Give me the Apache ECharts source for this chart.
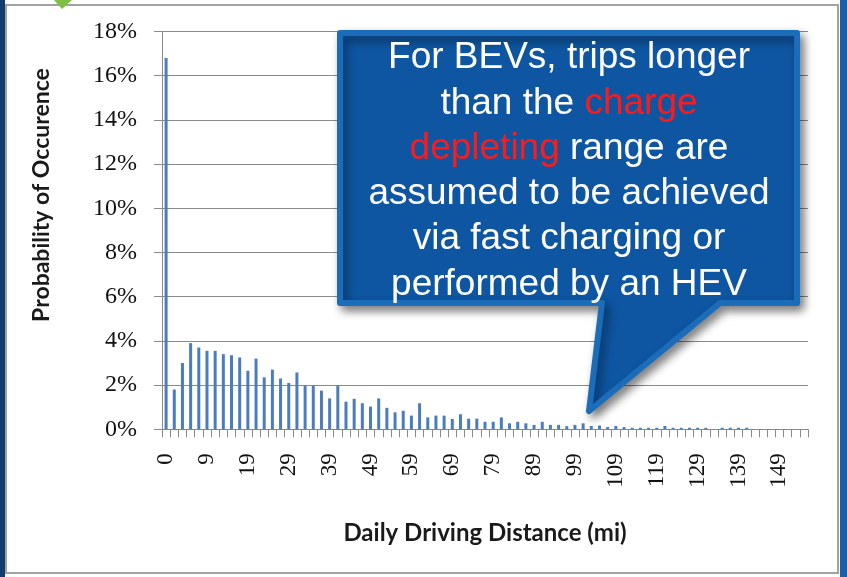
<!DOCTYPE html>
<html>
<head>
<meta charset="utf-8">
<title>Daily Driving Distance</title>
<script src="https://cdn.jsdelivr.net/npm/echarts@6.0.0/dist/echarts.min.js"></script>
<style>
  html, body { margin: 0; padding: 0; background: #fff; }
  #chart { width: 847px; height: 577px; }
</style>
</head>
<body>
<div id="chart"></div>
<script>
// 日行驶距离分布 (mi)
const distances = [
  '0', '1', '3', '5', '7', '9', '11', '13', '15', '17',
  '19', '21', '23', '25', '27', '29', '31', '33', '35', '37',
  '39', '41', '43', '45', '47', '49', '51', '53', '55', '57',
  '59', '61', '63', '65', '67', '69', '71', '73', '75', '77',
  '79', '81', '83', '85', '87', '89', '91', '93', '95', '97',
  '99', '101', '103', '105', '107', '109', '111', '113', '115', '117',
  '119', '121', '123', '125', '127', '129', '131', '133', '135', '137',
  '139', '141', '143', '145', '147', '149', '151', '153', '155'
]
// probability of occurence, %
const probability = [
  16.8, 1.8, 3.0, 3.9, 3.7, 3.55, 3.55, 3.4, 3.35, 3.25,
  2.65, 3.2, 2.35, 2.7, 2.3, 2.1, 2.57, 1.97, 1.97, 1.75,
  1.4, 1.98, 1.25, 1.38, 1.18, 1.03, 1.4, 0.97, 0.77, 0.84,
  0.62, 1.18, 0.54, 0.62, 0.62, 0.47, 0.68, 0.48, 0.48, 0.34,
  0.34, 0.54, 0.27, 0.34, 0.27, 0.2, 0.34, 0.2, 0.2, 0.14,
  0.2, 0.27, 0.15, 0.17, 0.1, 0.15, 0.1, 0.07, 0.07, 0.07,
  0.07, 0.15, 0.07, 0.07, 0.07, 0.07, 0.07, 0, 0.07, 0.07,
  0.07, 0.07, 0, 0, 0, 0, 0, 0, 0
]
const yTicks = [0, 2, 4, 6, 8, 10, 12, 14, 16, 18]

// callout text, one entry per line; {r|..} is red
const calloutLines = [
  'For BEVs, trips longer',
  'than the {r|charge}',
  '{r|depleting} range are',
  'assumed to be achieved',
  'via fast charging or',
  'performed by an HEV'
]

const gray = '#8a8a8a'
const serif = '"Liberation Serif", "Times New Roman", serif'
const sans = '"Liberation Sans", Arial, sans-serif'
const titleFont = 'Lato, "Open Sans", sans-serif'

const calloutText = calloutLines.map((line, i) => ({
  type: 'text',
  x: 569,
  y: 58 + i * 45.3,
  z: 102,
  style: {
    text: line,
    fill: '#fff',
    fontSize: 37,
    fontFamily: sans,
    align: 'center',
    verticalAlign: 'middle',
    rich: {
      r: { fill: '#ff1a1a', fontSize: 37, fontFamily: sans }
    }
  }
}))

const option = {
  backgroundColor: '#fff',
  animation: false,
  grid: {
    left: 162,
    right: 39,
    top: 31.5,
    bottom: 147.7
  },
  xAxis: {
    type: 'category',
    data: distances,
    name: 'Daily Driving Distance (mi)',
    nameLocation: 'middle',
    nameGap: 92,
    nameTextStyle: {
      fontFamily: titleFont,
      fontWeight: 'bold',
      fontSize: 24,
      color: '#1a1a1a'
    },
    axisLine: { lineStyle: { color: gray, width: 1 } },
    axisTick: { show: true, interval: 0, length: 8, lineStyle: { color: gray } },
    axisLabel: {
      interval: 4,
      rotate: 90,
      margin: 24,
      fontFamily: serif,
      fontSize: 23,
      color: '#111'
    }
  },
  yAxis: {
    type: 'value',
    min: 0,
    max: 18,
    interval: 2,
    axisLine: { show: true, lineStyle: { color: gray, width: 1 } },
    axisTick: { show: true, length: 8, lineStyle: { color: gray } },
    axisLabel: {
      margin: 25,
      fontFamily: serif,
      fontSize: 24,
      color: '#111',
      formatter: (v) => (yTicks.indexOf(v) >= 0 ? v + '%' : '')
    },
    splitLine: { lineStyle: { color: gray, width: 1.2 } }
  },
  series: [
    {
      name: 'Probability',
      type: 'bar',
      data: probability,
      barWidth: 3,
      itemStyle: { color: '#4a7dbd' }
    }
  ],
  graphic: [
    // 边框
    {
      type: 'rect',
      z: -10,
      shape: { x: 6, y: 5, width: 832, height: 568 },
      style: { fill: '#fff', stroke: '#a2a2a2', lineWidth: 2 }
    },
    {
      type: 'rect',
      z: -9,
      shape: { x: 0, y: 0, width: 5, height: 577 },
      style: { fill: '#0f3d6c' }
    },
    {
      type: 'rect',
      z: -9,
      shape: { x: 840, y: 0, width: 7, height: 577 },
      style: { fill: '#1b5fa8' }
    },
    {
      type: 'polygon',
      z: -8,
      shape: { points: [[54, 0], [72, 0], [62, 9]] },
      style: { fill: '#7cc142' }
    },
    // y axis title, sits above the grid's middle in the original
    {
      type: 'text',
      x: 42,
      y: 195,
      rotation: Math.PI / 2,
      style: {
        text: 'Probability of Occurence',
        fill: '#1a1a1a',
        fontFamily: titleFont,
        fontWeight: 'bold',
        fontSize: 23,
        align: 'center',
        verticalAlign: 'middle'
      }
    },
    // callout bubble
    {
      type: 'polygon',
      z: 100,
      shape: {
        points: [[340, 33], [797, 33], [797, 303], [720, 303], [589, 411], [602, 303], [340, 303]]
      },
      style: {
        fill: '#0e56a2',
        stroke: '#1b6cb9',
        lineWidth: 6,
        lineJoin: 'round',
        shadowBlur: 10,
        shadowOffsetX: 4,
        shadowOffsetY: 5,
        shadowColor: 'rgba(0,0,0,0.45)'
      }
    }
  ].concat(calloutText)
}

const myChart = echarts.init(document.getElementById('chart'))
myChart.setOption(option)
</script>
</body>
</html>
